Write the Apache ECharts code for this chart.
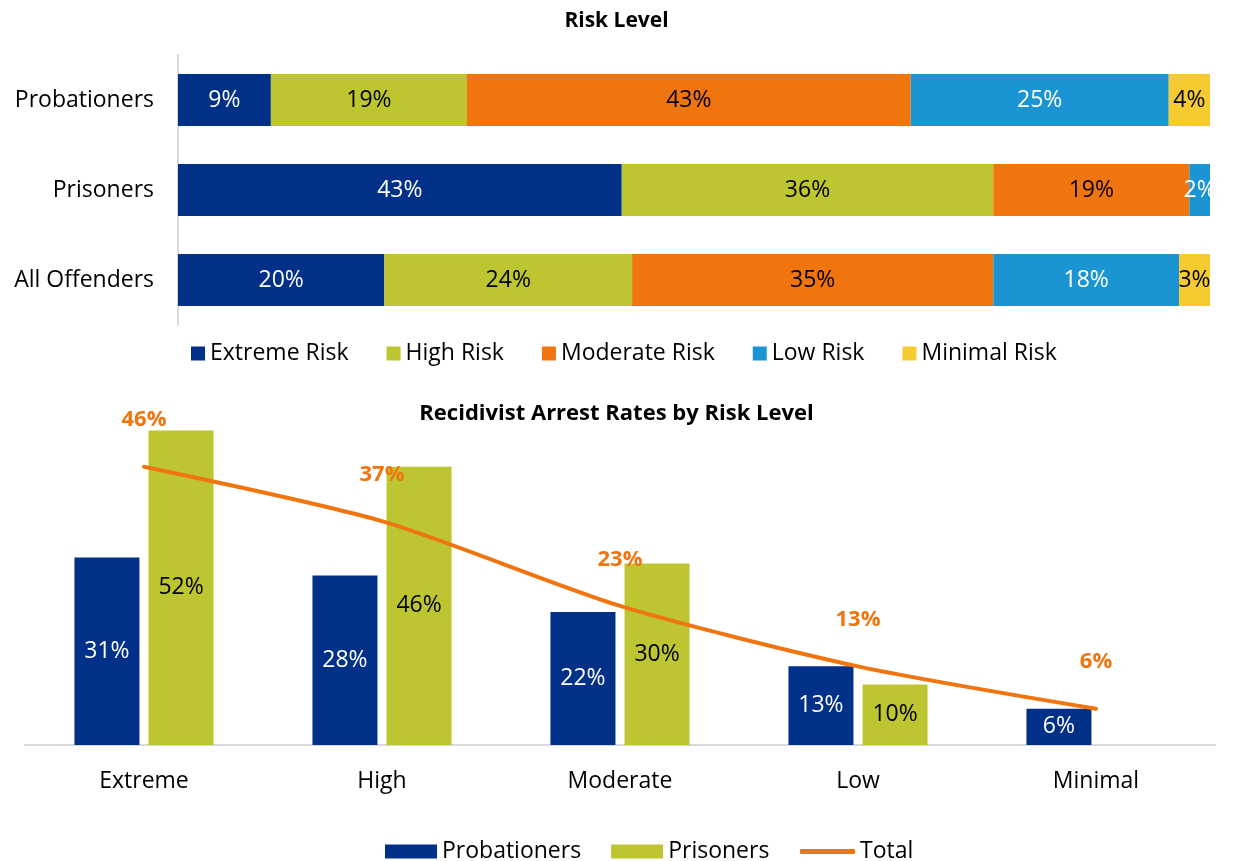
<!DOCTYPE html>
<html>
<head>
<meta charset="utf-8">
<script src="https://cdn.jsdelivr.net/npm/echarts@6/dist/echarts.min.js"></script>
<style>
html,body{margin:0;padding:0;background:#fff;}
#chart{width:1233px;height:861px;}
</style>
</head>
<body>
<div id="chart"></div>
<script>
// ---- Top chart data: Risk Level distribution (%) ----
const groups = ['Probationers', 'Prisoners', 'All Offenders'];
const riskNames = ['Extreme Risk', 'High Risk', 'Moderate Risk', 'Low Risk', 'Minimal Risk'];
const extremeRisk = [9, 43, 20];
const highRisk = [19, 36, 24];
const moderateRisk = [43, 19, 35];
const lowRisk = [25, 2, 18];
const minimalRisk = [4, 0, 3];

// ---- Bottom chart data: Recidivist arrest rates (%) ----
const levels = ['Extreme', 'High', 'Moderate', 'Low', 'Minimal'];
const probationers = [31, 28, 22, 13, 6];
const prisoners = [52, 46, 30, 10, null];
const total = [46, 37, 23, 13, 6];

const FONT = '"Open Sans", "Liberation Sans", sans-serif';
const FS = 23;
const riskColors = ['#003087', '#BDC531', '#F0750F', '#1A94D2', '#F5CB30'];
const riskLabelColors = ['#fff', '#000', '#000', '#fff', '#000'];
const riskData = [extremeRisk, highRisk, moderateRisk, lowRisk, minimalRisk];

const topSeries = riskNames.map((name, i) => ({
  name: name,
  type: 'bar',
  stack: 'risk',
  xAxisIndex: 0, yAxisIndex: 0,
  barWidth: 52,
  data: riskData[i],
  itemStyle: { color: riskColors[i] },
  label: {
    show: true, position: 'inside',
    color: riskLabelColors[i], fontFamily: FONT, fontSize: FS,
    formatter: p => p.value ? p.value + '%' : ''
  }
}));

const chart = echarts.init(document.getElementById('chart'), null, { renderer: 'canvas' });
chart.setOption({
  animation: false,
  backgroundColor: '#fff',
  textStyle: { fontFamily: FONT },
  title: [
    { text: 'Risk Level', left: 'center', top: 6,
      textStyle: { fontFamily: FONT, fontSize: 21, fontWeight: 'bold', color: '#000' } },
    { text: 'Recidivist Arrest Rates by Risk Level', left: 'center', top: 398,
      textStyle: { fontFamily: FONT, fontSize: 22, fontWeight: 'bold', color: '#000' } }
  ],
  legend: [
    { data: riskNames, top: 337, left: 186,
      icon: 'rect', itemWidth: 14, itemHeight: 14, itemGap: 38,
      textStyle: { fontFamily: FONT, fontSize: FS, color: '#000' } },
    { data: ['Probationers', 'Prisoners'], top: 835, left: 380,
      icon: 'rect', itemWidth: 52, itemHeight: 14, itemGap: 30,
      textStyle: { fontFamily: FONT, fontSize: FS, color: '#000' } },
    { data: ['Total'], top: 835, left: 795,
      icon: 'roundRect', itemWidth: 55, itemHeight: 5,
      textStyle: { fontFamily: FONT, fontSize: FS, color: '#000' } }
  ],
  grid: [
    { left: 178, right: 23, top: 55, height: 270, containLabel: false },
    { left: 25, right: 18, top: 382, height: 363, containLabel: false }
  ],
  xAxis: [
    { type: 'value', gridIndex: 0, min: 0, max: 100, show: false },
    { type: 'category', gridIndex: 1, data: levels,
      axisLine: { lineStyle: { color: '#D9D9D9', width: 2 } },
      axisTick: { show: false },
      axisLabel: { fontFamily: FONT, fontSize: FS, color: '#000', margin: 25 } }
  ],
  yAxis: [
    { type: 'category', gridIndex: 0, data: groups, inverse: true,
      axisLine: { lineStyle: { color: '#D9D9D9', width: 2 } },
      axisTick: { show: false },
      axisLabel: { fontFamily: FONT, fontSize: FS, color: '#000', margin: 24 } },
    { type: 'value', gridIndex: 1, min: 0, max: 60, show: false }
  ],
  series: topSeries.concat([
    { name: 'Probationers', type: 'bar', xAxisIndex: 1, yAxisIndex: 1,
      data: probationers, barWidth: 65, barGap: '14%',
      itemStyle: { color: '#003087' },
      label: { show: true, position: 'inside', color: '#fff', fontFamily: FONT, fontSize: FS,
        formatter: p => p.value + '%' } },
    { name: 'Prisoners', type: 'bar', xAxisIndex: 1, yAxisIndex: 1,
      data: prisoners, barWidth: 65, barGap: '14%',
      itemStyle: { color: '#BDC531' },
      label: { show: true, position: 'inside', color: '#000', fontFamily: FONT, fontSize: FS,
        formatter: p => p.value + '%' } },
    { name: 'Total', type: 'line', xAxisIndex: 1, yAxisIndex: 1,
      data: total, smooth: 0.25, symbol: 'circle', symbolSize: 1, showSymbol: true,
      lineStyle: { color: '#F0750F', width: 4, cap: 'round' },
      itemStyle: { color: '#F0750F' },
      z: 5,
      label: { show: true, position: 'top', distance: 35, color: '#F0750F',
        fontFamily: FONT, fontSize: 22, fontWeight: 'bold',
        formatter: p => p.value + '%' } }
  ])
});
</script>
</body>
</html>
